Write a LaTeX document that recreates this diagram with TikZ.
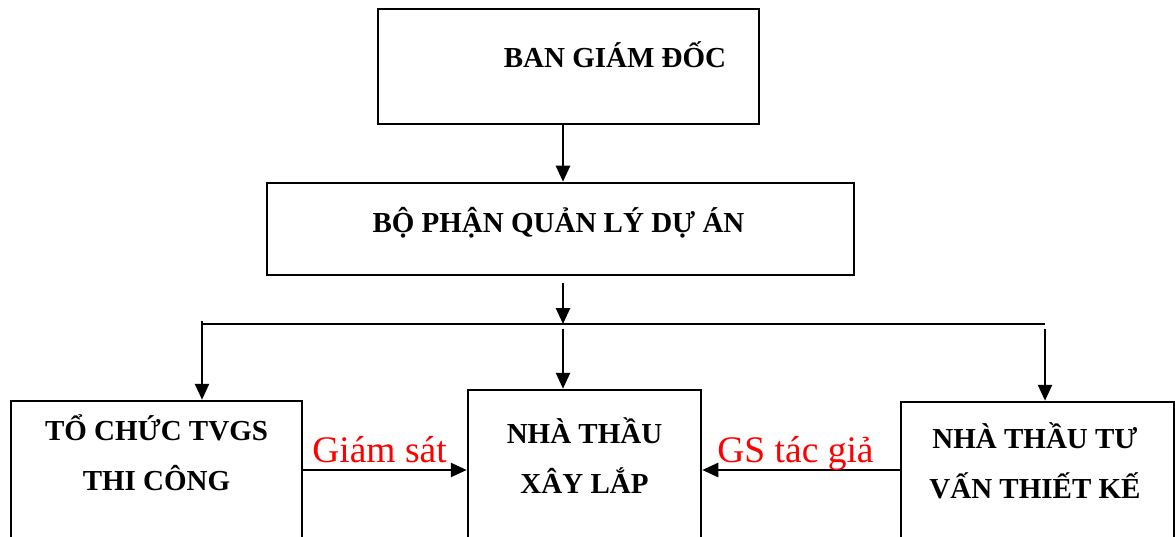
\documentclass[tikz,border=0pt]{standalone}
\usepackage{fontspec}
\setmainfont{Liberation Serif}
\usetikzlibrary{positioning, arrows.meta}

\begin{document}
\begin{tikzpicture}[
    x=1pt, y=-1pt,
    box/.style={draw, line width=2.5pt, inner sep=0pt},
    boxtext/.style={anchor=base, align=center, font=\fontsize{29}{50}\selectfont\bfseries},
    note/.style={anchor=base, text=red, inner sep=0pt, font=\fontsize{37.5}{40}\selectfont},
    arrow/.style={-{Triangle[length=16pt, width=14pt]}, line width=2.5pt},
    line/.style={line width=2.5pt}
]
\useasboundingbox (0,0) rectangle (1175,537);

% --- Boxes ---
\node[box, minimum width=381pt, minimum height=115pt] (gd) at (568.5,66.5) {};
\node[box, minimum width=587pt, minimum height=92pt] (bql) at (560.5,229) {};
\node[box, minimum width=291pt, minimum height=159pt] (tvgs) at (156.5,480.5) {};
\node[box, minimum width=233pt, minimum height=170pt] (ntxl) at (584.5,475) {};
\node[box, minimum width=273pt, minimum height=158pt] (tvtk) at (1037.5,481) {};

% --- Texts ---
\node[boxtext] (tgd) at (615,68) {BAN GIÁM ĐỐC};
\node[boxtext] (tbql) at (558.5,233) {BỘ PHẬN QUẢN LÝ DỰ ÁN};
\node[boxtext] (ttvgs) at (156.5,490) {TỔ CHỨC TVGS\\THI CÔNG};
\node[boxtext] (tntxl) at (584.5,493) {NHÀ THẦU\\XÂY LẮP};
\node[boxtext] (ttvtk) at (1035,498) {NHÀ THẦU TƯ\\VẤN THIẾT KẾ};

% --- Arrows ---
\coordinate (spine) at (563,0);
\coordinate (busl) at (202,324);
\coordinate (busr) at (1045,324);
\coordinate (gsy) at (0,470);

\draw[arrow] (gd.south -| spine) -- (bql.north -| spine);
\draw[arrow] ([yshift=-7pt]bql.south -| spine) -- (busl -| spine);
\draw[line] (busl) -- (busr);
\draw[arrow] ([yshift=3pt]busl) -- (tvgs.north -| busl);
\draw[arrow] ([yshift=-5pt]busl -| spine) -- (ntxl.north -| spine);
\draw[arrow] ([yshift=-5pt]busr) -- (tvtk.north -| busr);

\draw[arrow] (tvgs.east |- gsy) -- (ntxl.west |- gsy);
\draw[arrow] (tvtk.west |- gsy) -- (ntxl.east |- gsy);

\node[note] (lgs) at (379.5,462) {Giám sát};
\node[note] (lgstg) at (795.5,462) {GS tác giả};

\end{tikzpicture}
\end{document}
